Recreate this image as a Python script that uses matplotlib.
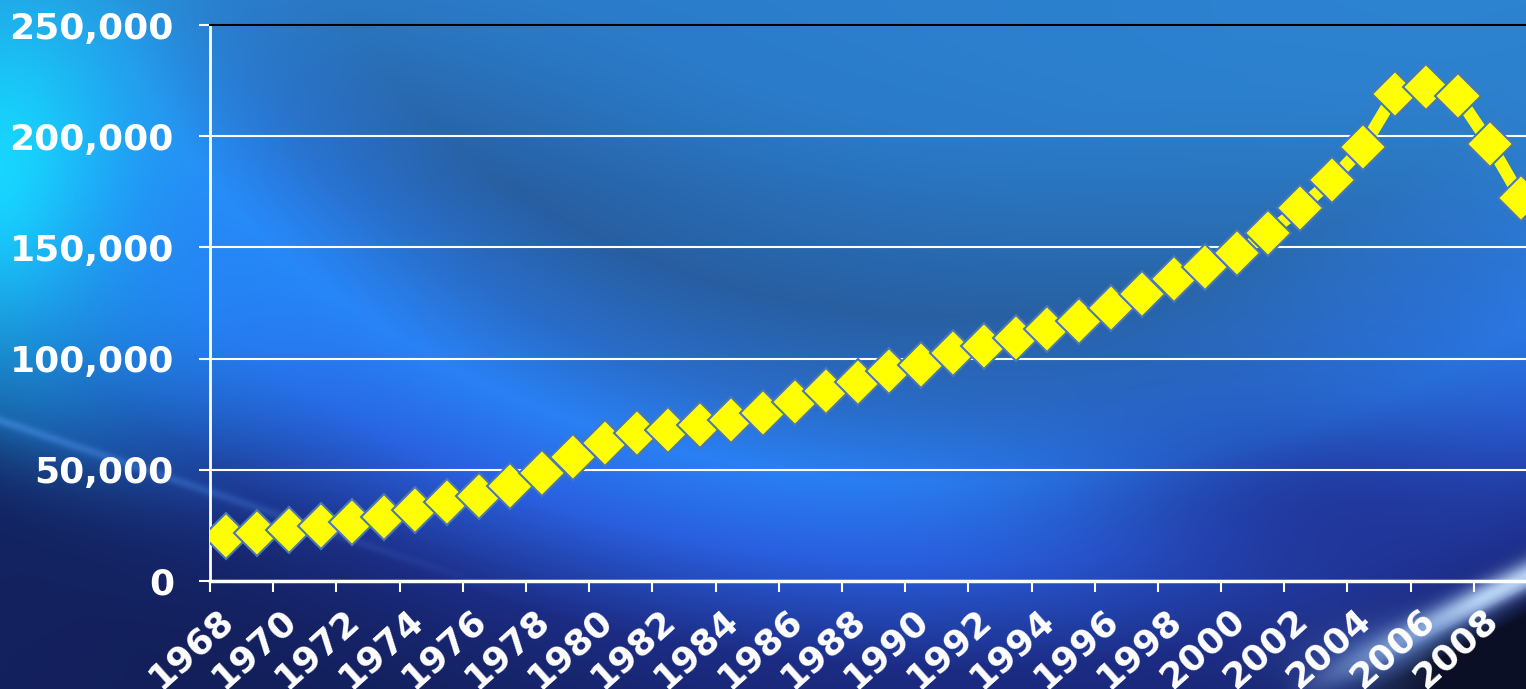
import numpy as np
import matplotlib
matplotlib.use('Agg')
import matplotlib.pyplot as plt
from matplotlib.transforms import ScaledTranslation
from matplotlib.ticker import FuncFormatter, MultipleLocator

# Median existing-home sales price, 1968-2009
years = list(range(1968, 2010))
prices = [20100, 21800, 23000, 24800, 26700, 28900, 32000, 35300, 38100, 42900,
          48700, 55700, 62200, 66400, 67800, 70300, 72400, 75500, 80300, 85600,
          89300, 94600, 97300, 102700, 105500, 109100, 113500, 117000, 122600, 129000,
          136000, 141200, 147300, 156600, 167600, 180200, 195200, 219000, 221900, 217900,
          196600, 172100]
tick_years = list(range(1968, 2010, 2))

W, H = 1526, 689
fig = plt.figure(figsize=(W / 100, H / 100), dpi=100)


# ---- blue swoosh background ----
def hexrgb(h):
    h = h.lstrip('#')
    return np.array([int(h[i:i + 2], 16) / 255 for i in (0, 2, 4)])


yy, xx = np.mgrid[0:H, 0:W].astype(float)

# soft arc: colour depends on distance from an off-canvas ellipse centre
r = np.sqrt(((xx - 950) / 850) ** 2 + ((yy + 150) / 620) ** 2)
stops = [0.0, 0.45, 0.75, 0.9, 1.02, 1.15, 1.32, 1.6]
cols = ['#2c86d6', '#2a78c6', '#285ea0', '#2a6cc8', '#2a80f4', '#2a60e0',
        '#1c2c84', '#101a4c']
cols = np.array([hexrgb(c) for c in cols])
img = np.stack([np.interp(r, stops, cols[:, k]) for k in range(3)], axis=-1)


def blend(mask, color):
    global img
    m = np.clip(mask, 0, 1)[..., None]
    img = img * (1 - m) + hexrgb(color) * m


def blob(cx, cy, sx, sy):
    return np.exp(-(((xx - cx) / sx) ** 2 + ((yy - cy) / sy) ** 2))


blend(np.clip(1 - yy / 190, 0, 1) ** 1.2 * 0.8, '#2b7ecc')
blend(blob(1526, 80, 450, 220) * 0.7, '#2e8ad8')
blend(blob(1460, 330, 160, 120) * 0.4, '#2a6ad0')
blend(blob(1330, 510, 260, 110) * 0.75, '#1f2c8a')
# cyan glow on the left edge
blend(blob(0, 180, 150, 220), '#16dcff')
blend(blob(180, 320, 200, 150) * 0.55, '#2294ff')
# thin light streak on the lower left, navy below it
d = yy - (420 + 0.34 * xx)
blend(np.exp(-(d / 5) ** 2) * np.clip(1 - xx / 520, 0, 1) * 0.4, '#5aa0ff')
blend(np.clip((d - 4) / 90, 0, 1) * np.clip(1 - xx / 800, 0, 1) * 0.85, '#142262')
# light streak and dark corner at bottom right
s = yy - (689 - 0.5 * (xx - 1300))
blend(np.exp(-(s / 16) ** 2) * np.clip((xx - 1280) / 200, 0, 1) * 0.9, '#c8e4ff')
blend(blob(1450, 660, 120, 40) * 0.5, '#7ab0f0')
blend(np.clip((s - 10) / 30, 0, 1) * np.clip((xx - 1320) / 120, 0, 1), '#0a0f25')

bg = fig.add_axes([0, 0, 1, 1], zorder=-1)
bg.imshow(img, aspect='auto', interpolation='bilinear')
bg.axis('off')

# ---- main chart ----
ax = fig.add_axes([210 / W, (H - 581) / H, 1 - 210 / W, 556 / H])
ax.patch.set_alpha(0)

x = np.arange(len(years))
ax.plot(x, prices, color='#ffff00', lw=9, marker='D', markersize=23,
        markerfacecolor='#ffff00', markeredgecolor='#4b78b4', markeredgewidth=1.5,
        zorder=3)

ax.set_xlim(-0.5, 41.15)
ax.set_ylim(0, 250000)
ax.yaxis.set_major_locator(MultipleLocator(50000))
ax.yaxis.set_major_formatter(FuncFormatter(lambda v, p: f'{int(v):,}'))
ax.grid(axis='y', color='white', lw=1.5, zorder=1)
ax.set_axisbelow(True)

tick_pos = [years.index(yv) - 0.5 for yv in tick_years]
ax.set_xticks(tick_pos)
ax.set_xticklabels([str(t) for t in tick_years], rotation=42, ha='right', va='top')

ax.spines['right'].set_visible(False)
ax.spines['top'].set_color('black')
ax.spines['top'].set_linewidth(1.5)
ax.spines['left'].set_color('white')
ax.spines['left'].set_linewidth(2)
ax.spines['bottom'].set_color('white')
ax.spines['bottom'].set_linewidth(2.5)

ax.tick_params(axis='y', colors='white', length=8, width=1.5, pad=18,
               labelsize=26)
ax.tick_params(axis='x', colors='white', length=8, width=1.5, pad=7,
               labelsize=26)
for lbl in ax.get_yticklabels() + ax.get_xticklabels():
    lbl.set_fontfamily('DejaVu Sans')
    lbl.set_fontweight('bold')
for lbl in ax.get_xticklabels():
    lbl.set_transform(lbl.get_transform() + ScaledTranslation(0.3, 0, fig.dpi_scale_trans))

fig.savefig('out.png', dpi=100)
